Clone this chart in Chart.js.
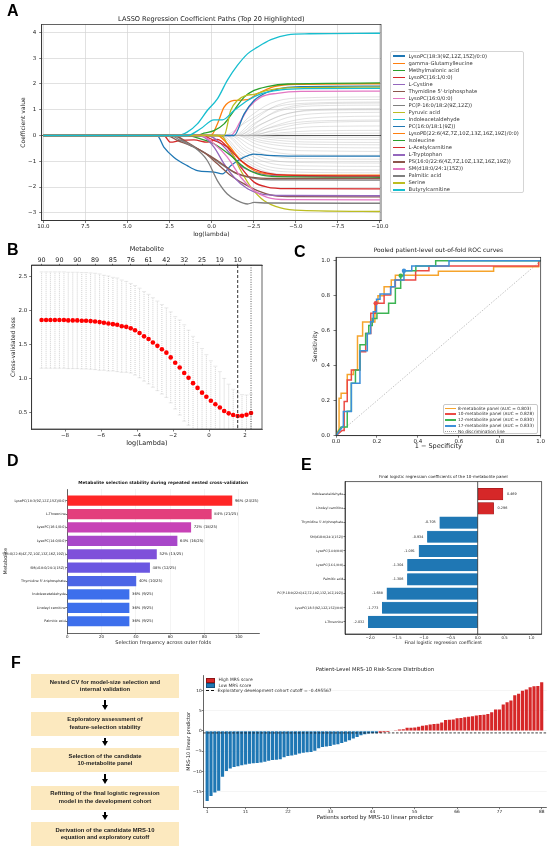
<!DOCTYPE html>
<html>
<head>
<meta charset="utf-8">
<title>Metabolite panel figure</title>
<script src="https://cdn.jsdelivr.net/npm/chart.js@4.4.1/dist/chart.umd.min.js"></script>
<style>
  html, body { margin: 0; padding: 0; background: #fff; }
  #page { position: relative; width: 550px; height: 851px; overflow: hidden; font-family: 'DejaVu Sans', sans-serif; color: #222; }
  #page canvas { position: absolute; left: 0; top: 0; }
  .tag { position: absolute; font: bold 16px/16px 'Liberation Sans', Arial, sans-serif; color: #000; }
  .lg { position: absolute; background: #fff; box-sizing: border-box; }
  .lg div { white-space: nowrap; }
  .sw { display: inline-block; vertical-align: middle; }
  .flow { position: absolute; left: 31px; width: 148px; height: 24px; background: #fce9bf; display: flex; align-items: center; justify-content: center; text-align: center; font: bold 5.9px/7.7px 'Liberation Sans', Arial, sans-serif; color: #222; }
  .arrow { position: absolute; left: 104.4px; width: 1.2px; background: #000; }
  .arrow:after { content: ''; position: absolute; left: -2.4px; bottom: -5px; border-left: 3px solid transparent; border-right: 3px solid transparent; border-top: 5px solid #000; }
</style>
</head>
<body>
<div id="page">
  <canvas id="cA" width="550" height="851"></canvas>
  <canvas id="cB" width="550" height="851"></canvas>
  <canvas id="cC" width="550" height="851"></canvas>
  <canvas id="cD" width="550" height="851"></canvas>
  <canvas id="cE" width="550" height="851"></canvas>
  <canvas id="cF" width="550" height="851"></canvas>

  <div class="tag" style="left:7px;top:3px">A</div>
  <div class="tag" style="left:7px;top:242px">B</div>
  <div class="tag" style="left:294px;top:243.5px">C</div>
  <div class="tag" style="left:7px;top:453px">D</div>
  <div class="tag" style="left:301px;top:457px">E</div>
  <div class="tag" style="left:11px;top:654.5px">F</div>

  <div id="legA" class="lg" style="left:390px;top:51px;width:134px;height:142px;border:0.8px solid #d5d5d5;border-radius:2px;padding:0.6px 0 0 1.6px;font-size:5.2px;line-height:7.05px;color:#333"></div>
  <div id="legC" class="lg" style="left:443px;top:404px;width:95px;height:30px;border:0.8px solid #c8c8c8;border-radius:2px;padding:0.6px 0 0 1.3px;font-size:4.3px;line-height:5.85px;color:#333"></div>
  <div id="legF" class="lg" style="left:205.5px;top:677.3px;font-size:4.4px;line-height:5.2px;color:#333;background:transparent"></div>
  <div id="flow"></div>
</div>

<script>
// ---------- A: LASSO coefficient paths ----------
const lassoStart = 10;
const lassoTicksX = [10, 7.5, 5, 2.5, 0, -2.5, -5, -7.5, -10];
const lassoTicksY = [-3, -2, -1, 0, 1, 2, 3, 4];

const topNames = [
  'LysoPC(18:3(9Z,12Z,15Z)/0:0)', 'gamma-Glutamylleucine', 'Methylmalonic acid', 'LysoPC(16:1/0:0)',
  'L-Cystine', "Thymidine 5'-triphosphate", 'LysoPC(16:0/0:0)', 'PC(P-16:0/18:2(9Z,12Z))',
  'Pyruvic acid', 'Indoleacetaldehyde', 'PC(16:0/18:1(9Z))', 'LysoPE(22:6(4Z,7Z,10Z,13Z,16Z,19Z)/0:0)',
  'Isoleucine', 'L-Acetylcarnitine', 'L-Tryptophan', 'PS(16:0/22:6(4Z,7Z,10Z,13Z,16Z,19Z))',
  'SM(d18:0/24:1(15Z))', 'Palmitic acid', 'Serine', 'Butyrylcarnitine'
];
const topColors = [
  '#1f77b4', '#ff7f0e', '#2ca02c', '#d62728', '#9467bd', '#8c564b', '#e377c2', '#7f7f7f', '#bcbd22', '#17becf',
  '#1f77b4', '#ff7f0e', '#2ca02c', '#d62728', '#9467bd', '#8c564b', '#e377c2', '#7f7f7f', '#bcbd22', '#17becf'
];
// [log(lambda), coefficient] knots, after the flat zero stretch
const topPaths = [
  [[3.24,0],[2.84,-0.45],[2.25,-0.84],[1.45,-1.17],[0.85,-1.36],[-0.14,-1.42],[-0.64,-1.49],[-1.13,-1.17],[-1.93,-0.84],[-2.5,-0.72],[-3.3,-0.77],[-5,-0.8],[-10,-0.8]],
  [[0.05,0],[-0.34,0.45],[-0.74,1.1],[-1.33,1.36],[-2.13,1.39],[-2.72,1.62],[-3.7,1.9],[-5,1.99],[-10,2.01]],
  [[0.85,0],[0.46,0.09],[-0.14,0.19],[-0.74,0.45],[-1.33,0.97],[-1.93,1.49],[-2.52,1.75],[-3.3,1.9],[-4.5,2],[-10,2.04]],
  [[2.84,0],[2.45,-0.26],[1.85,-0.19],[1.05,-0.17],[0.26,-0.26],[-0.34,-0.15],[-0.93,-0.45],[-1.73,-1.23],[-2.52,-1.81],[-3.3,-2],[-4.5,-2.06],[-10,-2.07]],
  [[0.26,0],[-0.34,-0.19],[-0.93,-0.58],[-1.73,-1.17],[-2.52,-1.42],[-3.7,-1.56],[-10,-1.6]],
  [[2.64,0],[2.05,-0.19],[1.25,-0.39],[0.46,-0.65],[-0.34,-1.1],[-1.13,-1.55],[-1.93,-1.88],[-2.72,-2.14],[-3.7,-2.33],[-5,-2.37],[-10,-2.38]],
  [[-1.13,0],[-1.73,0.58],[-2.23,1.1],[-2.92,1.49],[-3.9,1.64],[-5.3,1.71],[-10,1.72]],
  [[2.25,0],[1.45,-0.32],[0.46,-0.65],[-0.54,-1.1],[-1.53,-1.49],[-2.72,-1.68],[-4,-1.72],[-10,-1.73]],
  [[-0.54,0],[-1.13,-0.58],[-1.73,-1.36],[-2.33,-2],[-3.12,-2.53],[-4.1,-2.81],[-5.3,-2.91],[-10,-2.95]],
  [[2.05,0],[1.45,0.13],[0.85,0.45],[0.26,0.97],[-0.34,1.42],[-0.93,2.14],[-1.53,2.72],[-2.13,3.17],[-2.72,3.43],[-3.52,3.72],[-4.51,3.91],[-5.8,3.95],[-10,3.97]],
  [[-1.33,0],[-1.93,0.84],[-2.52,1.36],[-3.3,1.68],[-4.3,1.85],[-5.3,1.9],[-10,1.92]],
  [[-0.34,0],[-0.93,-0.32],[-1.73,-0.97],[-2.52,-1.36],[-3.3,-1.49],[-5,-1.54],[-10,-1.54]],
  [[1.45,0],[0.66,-0.13],[-0.14,-0.32],[-1.13,-0.78],[-1.93,-1.23],[-2.72,-1.49],[-3.9,-1.6],[-10,-1.62]],
  [[0.66,0],[-0.14,-0.19],[-0.93,-0.45],[-1.73,-0.97],[-2.52,-1.3],[-3.3,-1.46],[-4.5,-1.54],[-10,-1.57]],
  [[1.05,0],[0.46,-0.06],[-0.14,-0.45],[-0.74,-1.1],[-1.33,-1.62],[-2.13,-2.07],[-2.92,-2.27],[-4.1,-2.33],[-10,-2.34]],
  [[2.25,0],[1.45,-0.26],[0.66,-0.58],[-0.34,-0.97],[-1.33,-1.42],[-2.33,-1.62],[-3.7,-1.67],[-10,-1.67]],
  [[0.66,0],[-0.14,-0.32],[-0.93,-0.84],[-1.73,-1.62],[-2.52,-2.14],[-3.3,-2.4],[-4.5,-2.49],[-10,-2.5]],
  [[2.45,0],[1.85,-0.19],[1.05,-0.45],[0.26,-0.97],[-0.34,-1.75],[-0.93,-2.27],[-1.53,-2.53],[-2.13,-2.66],[-2.52,-2.6],[-3.3,-2.62],[-10,-2.63]],
  [[-0.74,0],[-1.13,0.97],[-1.53,1.36],[-2.03,1.55],[-2.52,1.6],[-3.3,1.75],[-4.5,1.85],[-10,1.88]],
  [[1.45,0],[0.66,0.26],[-0.14,0.61],[-0.64,0.61],[-1.33,0.97],[-2.13,1.36],[-2.92,1.62],[-4.1,1.77],[-5.5,1.82],[-10,1.83]]
];
// the remaining (grey) metabolites
const greyPaths = [
  [[-1,0],[-2.2,0.7],[-3.5,1.25],[-5,1.45],[-10,1.5]],
  [[-0.7,0],[-2,0.5],[-3.5,1.05],[-5.5,1.25],[-10,1.3]],
  [[-1.3,0],[-2.5,0.6],[-3.8,1.15],[-5.5,1.36],[-10,1.4]],
  [[-1.6,0],[-2.8,0.55],[-4,1],[-6,1.22],[-10,1.26]],
  [[-1.4,0],[-2.6,0.5],[-4,0.95],[-6,1.15],[-10,1.18]],
  [[-1.8,0],[-3,0.45],[-4.5,0.85],[-6.5,1.02],[-10,1.05]],
  [[-1.5,0],[-2.8,0.4],[-4.2,0.8],[-6,0.97],[-10,1]],
  [[-2,0],[-3.2,0.35],[-4.5,0.7],[-6.5,0.86],[-10,0.9]],
  [[-2.2,0],[-3.4,0.3],[-5,0.6],[-7,0.72],[-10,0.75]],
  [[-1.9,0],[-3.2,0.25],[-5,0.5],[-7,0.58],[-10,0.6]],
  [[-2.4,0],[-3.6,0.2],[-5,0.42],[-7,0.52],[-10,0.55]],
  [[-2.1,0],[-3.5,0.15],[-5.5,0.32],[-7.5,0.36],[-10,0.37]],
  [[-2.6,0],[-4,0.1],[-6,0.18],[-10,0.2]],
  [[-2.8,0],[-4.5,0.06],[-10,0.09]],
  [[-2.5,0],[-4,-0.05],[-10,-0.07]],
  [[-2.3,0],[-3.8,-0.1],[-6,-0.15],[-10,-0.16]],
  [[-2,0],[-3.4,-0.15],[-5.5,-0.25],[-10,-0.27]],
  [[-1.8,0],[-3,-0.2],[-5,-0.33],[-10,-0.36]],
  [[-1.6,0],[-2.8,-0.25],[-4.5,-0.42],[-7,-0.47],[-10,-0.48]],
  [[-1.5,0],[-2.7,-0.35],[-4.2,-0.55],[-6.5,-0.6],[-10,-0.62]],
  [[-1.2,0],[-2.4,-0.4],[-4,-0.68],[-6,-0.75],[-10,-0.77]],
  [[-1.1,0],[-2.2,-0.5],[-3.8,-0.82],[-6,-0.9],[-10,-0.92]],
  [[-0.9,0],[-2,-0.55],[-3.5,-0.95],[-5.5,-1.05],[-10,-1.07]],
  [[-0.8,0],[-1.9,-0.6],[-3.3,-1.05],[-5.5,-1.18],[-10,-1.2]],
  [[-0.6,0],[-1.7,-0.65],[-3.2,-1.18],[-5.5,-1.32],[-10,-1.34]],
  [[-0.5,0],[-1.6,-0.7],[-3,-1.25],[-5,-1.42],[-10,-1.45]],
  [[-0.3,0],[-1.5,-0.75],[-3,-1.35],[-5,-1.52],[-10,-1.55]]
];

// ---------- B: cross-validation curve ----------
const logLambda = [-9.30,-9.05,-8.81,-8.56,-8.31,-8.06,-7.82,-7.57,-7.32,-7.07,-6.83,-6.58,-6.33,-6.08,-5.84,-5.59,
  -5.34,-5.10,-4.85,-4.60,-4.35,-4.11,-3.86,-3.61,-3.36,-3.12,-2.87,-2.62,-2.37,-2.13,-1.88,-1.63,
  -1.38,-1.14,-0.89,-0.64,-0.39,-0.15,0.10,0.35,0.60,0.84,1.09,1.34,1.59,1.83,2.08,2.33];
const cvLoss = [1.86,1.86,1.86,1.86,1.86,1.86,1.855,1.855,1.855,1.85,1.85,1.845,1.84,1.83,1.82,1.81,
  1.80,1.79,1.77,1.76,1.74,1.71,1.67,1.62,1.58,1.53,1.48,1.43,1.38,1.31,1.23,1.16,
  1.08,1.01,0.93,0.86,0.79,0.73,0.67,0.62,0.57,0.52,0.485,0.46,0.445,0.45,0.465,0.49];
const cvSd = [0.71,0.71,0.71,0.71,0.71,0.71,0.71,0.71,0.71,0.71,0.71,0.71,0.71,0.71,0.70,0.70,
  0.69,0.69,0.68,0.67,0.66,0.66,0.66,0.66,0.66,0.66,0.66,0.66,0.66,0.67,0.68,0.70,
  0.71,0.70,0.69,0.67,0.65,0.62,0.59,0.56,0.53,0.48,0.43,0.38,0.34,0.31,0.29,0.28];
const nonzeroIdx = [0, 4, 8, 12, 16, 20, 24, 28, 32, 36, 40, 44];
const nonzeroCount = [90, 90, 90, 89, 85, 76, 61, 42, 32, 25, 19, 10];
const lambdaMin = 1.59;
const lambda1se = 2.33;
const cvTicksX = [-8, -6, -4, -2, 0, 2];
const cvTicksY = [0.5, 1.0, 1.5, 2.0, 2.5];

// ---------- C: ROC curves ----------
const rocLabels = ['8-metabolite panel (AUC = 0.803)', '10-metabolite panel (AUC = 0.828)', '12-metabolite panel (AUC = 0.830)', '17-metabolite panel (AUC = 0.833)'];
const rocColors = ['#f6a42c', '#ec4a45', '#3cb453', '#3d8fd8'];
const rocCurves = [
  [[0,0],[0.015,0.04],[0.015,0.214],[0.025,0.214],[0.025,0.243],[0.055,0.243],[0.055,0.35],[0.085,0.35],[0.085,0.376],[0.105,0.376],[0.105,0.57],[0.13,0.57],[0.13,0.65],[0.19,0.65],[0.19,0.757],[0.205,0.757],[0.205,0.8],[0.235,0.8],[0.235,0.852],[0.27,0.852],[0.27,0.89],[0.29,0.89],[0.29,0.918],[0.5,0.918],[0.5,0.94],[0.77,0.94],[0.77,0.966],[0.99,0.966],[0.99,1],[1,1]],
  [[0,0],[0.03,0.03],[0.04,0.03],[0.04,0.195],[0.055,0.195],[0.055,0.319],[0.075,0.319],[0.075,0.376],[0.117,0.376],[0.117,0.48],[0.145,0.48],[0.145,0.585],[0.17,0.585],[0.17,0.7],[0.194,0.7],[0.194,0.757],[0.235,0.757],[0.235,0.805],[0.267,0.805],[0.267,0.852],[0.29,0.852],[0.29,0.89],[0.389,0.89],[0.389,0.943],[0.454,0.943],[0.454,0.97],[0.99,0.97],[0.99,1],[1,1]],
  [[0,0],[0.025,0.05],[0.055,0.05],[0.055,0.14],[0.075,0.14],[0.075,0.3],[0.095,0.3],[0.095,0.376],[0.117,0.376],[0.117,0.52],[0.145,0.52],[0.145,0.585],[0.16,0.585],[0.16,0.63],[0.177,0.63],[0.177,0.67],[0.2,0.67],[0.2,0.7],[0.257,0.7],[0.257,0.757],[0.29,0.757],[0.29,0.843],[0.316,0.843],[0.316,0.915],[0.33,0.915],[0.33,0.943],[0.39,0.943],[0.39,0.97],[0.487,0.97],[0.487,1],[1,1]],
  [[0,0],[0.036,0.057],[0.036,0.138],[0.075,0.138],[0.075,0.3],[0.117,0.3],[0.117,0.486],[0.153,0.486],[0.153,0.585],[0.169,0.585],[0.169,0.652],[0.182,0.652],[0.182,0.709],[0.198,0.709],[0.198,0.78],[0.215,0.78],[0.215,0.81],[0.267,0.81],[0.267,0.852],[0.288,0.852],[0.288,0.89],[0.332,0.89],[0.332,0.943],[0.37,0.943],[0.37,0.97],[0.552,0.97],[0.552,1],[1,1]]
];
const rocCutPoints = [null, [0.194, 0.757], [0.316, 0.915], [0.332, 0.943]];
const chanceLine = [[0, 0], [1, 1]];
const rocTicks = [0, 0.2, 0.4, 0.6, 0.8, 1.0];

// ---------- D: selection stability ----------
const selNames = ['LysoPC(18:3(9Z,12Z,15Z)/0:0)', 'L-Threonine', 'LysoPC(16:1/0:0)', 'LysoPC(14:0/0:0)',
  'PC(P-18:0/22:6(4Z,7Z,10Z,13Z,16Z,19Z))', 'SM(d18:0/24:1(15Z))', "Thymidine 5'-triphosphate",
  'Indoleacetaldehyde', 'Linoleyl carnitine', 'Palmitic acid'];
const selPct = [96, 84, 72, 64, 52, 48, 40, 36, 36, 36];
const selFolds = [24, 21, 18, 16, 13, 12, 10, 9, 9, 9];
const outerFolds = 25;
const selColors = ['#ff2626', '#e33f7c', '#c842b6', '#a847c9', '#7f50da', '#6b57e1', '#4c65e6', '#3d6fec', '#3d6fec', '#3d6fec'];
const selTicks = [0, 20, 40, 60, 80, 100];

// ---------- E: final coefficients ----------
const coefNames = ['Indoleacetaldehyde', 'Linoleyl carnitine', "Thymidine 5'-triphosphate", 'SM(d18:0/24:1(15Z))',
  'LysoPC(14:0/0:0)', 'LysoPC(16:1/0:0)', 'Palmitic acid', 'PC(P-18:0/22:6(4Z,7Z,10Z,13Z,16Z,19Z))',
  'LysoPC(18:3(9Z,12Z,15Z)/0:0)', 'L-Threonine'];
const coefValues = [0.469, 0.296, -0.705, -0.934, -1.091, -1.304, -1.306, -1.688, -1.773, -2.032];
const coefTicks = [-2.0, -1.5, -1.0, -0.5, 0.0, 0.5, 1.0];

// ---------- F: patient-level risk score ----------
const mrsScores = [-17.3,-16.1,-15.2,-14.8,-11.3,-9.9,-9.3,-8.9,-8.7,-8.45,-8.3,-8.1,-8.0,-7.9,-7.8,-7.6,-7.4,-7.2,-7.1,-7.0,
  -6.5,-6.2,-6.1,-5.9,-5.6,-5.4,-5.3,-5.2,-4.9,-4.3,-4.0,-3.85,-3.7,-3.4,-3.3,-3.0,-2.7,-2.3,-1.9,-1.5,
  -1.1,-0.85,-0.65,-0.6,-0.55,-0.45,-0.35,-0.3,-0.1,0.05,0.35,0.4,0.75,0.8,0.85,1.0,1.3,1.4,1.6,1.7,
  1.75,2.1,2.7,2.75,2.8,3.1,3.2,3.4,3.5,3.6,3.8,3.9,4.0,4.2,4.6,5.3,5.3,6.5,7.1,7.5,
  8.8,9.2,9.9,10.2,10.8,11.0,11.1,12.0];
const mrsCutoff = -0.495567;
const patientTicks = [1, 11, 22, 33, 44, 55, 66, 77, 88];
const mrsTicksY = [-15, -10, -5, 0, 5, 10];

const flowSteps = [
  ['Nested CV for model-size selection and', 'internal validation'],
  ['Exploratory assessment of', 'feature-selection stability'],
  ['Selection of the candidate', '10-metabolite panel'],
  ['Refitting of the final logistic regression', 'model in the development cohort'],
  ['Derivation of the candidate MRS-10', 'equation and exploratory cutoff']
];

// ---------------------------------------------------------------
Chart.defaults.font.family = "'DejaVu Sans', sans-serif";
Chart.defaults.color = '#222';
Chart.defaults.animation = false;
Chart.defaults.plugins.legend.display = false;
Chart.defaults.plugins.tooltip.enabled = false;

const minus = d => v => (v < 0 ? '\u2212' : '') + Math.abs(v).toFixed(d);

// every canvas covers the page, so the plot box is given in page pixels
function fitBox(area, yT, xT, topT) {
  const lw = yT ? area.l - (yT[0] - 0.6 * yT[1]) : area.lw;
  const bh = xT[0] - area.b + 0.6 * xT[1];
  const th = topT ? area.t - topT[0] + 0.6 * topT[1] : 0;
  return { lw, bh, th, padding: { left: area.l - lw, top: area.t - th, right: 550 - area.r, bottom: 851 - area.b - bh } };
}

function axis(o) {
  const horiz = o.position === 'bottom' || o.position === 'top';
  return {
    type: 'linear', position: o.position, min: o.min, max: o.max, reverse: !!o.reverse, bounds: 'data', offset: false,
    afterBuildTicks: s => { s.ticks = o.ticks.map(v => ({ value: v })); },
    afterFit: s => {
      if (horiz) { s.height = o.size; s.paddingLeft = 0; s.paddingRight = 0; }
      else { s.width = o.size; s.paddingTop = 0; s.paddingBottom = 0; }
    },
    ticks: { autoSkip: false, maxRotation: 0, minRotation: 0, padding: o.pad, font: { size: o.fs }, color: '#222', callback: o.fmt },
    grid: { display: true, offset: false, drawOnChartArea: !!o.grid, color: o.gridColor || '#e6e6e6', lineWidth: o.gridWidth || 0.6,
            drawTicks: o.tl > 0, tickLength: o.tl, tickColor: '#222', tickWidth: 0.6 },
    border: { display: o.border !== false, color: '#222', width: 0.7 },
    title: o.title ? { display: true, text: o.title, font: { size: o.tfs }, color: '#222', padding: 0 } : { display: false }
  };
}

// titles, frames, reference lines and bar value labels
Chart.register({
  id: 'extras',
  afterDatasetsDraw(chart, args, o) {
    const { ctx, chartArea: a, scales } = chart;
    ctx.save();
    (o.vlines || []).forEach(l => {
      const x = scales.x.getPixelForValue(l.value);
      ctx.strokeStyle = l.color; ctx.lineWidth = l.width; ctx.setLineDash(l.dash || []);
      ctx.beginPath(); ctx.moveTo(x, a.top); ctx.lineTo(x, a.bottom); ctx.stroke();
    });
    (o.hlines || []).forEach(l => {
      const y = scales.y.getPixelForValue(l.value);
      ctx.strokeStyle = l.color; ctx.lineWidth = l.width; ctx.setLineDash(l.dash || []);
      ctx.beginPath(); ctx.moveTo(a.left, y); ctx.lineTo(a.right, y); ctx.stroke();
    });
    ctx.setLineDash([]);
    if (o.barText) {
      const meta = chart.getDatasetMeta(0);
      ctx.font = o.barText.size + "px 'DejaVu Sans', sans-serif";
      ctx.fillStyle = '#222'; ctx.textBaseline = 'middle';
      meta.data.forEach((el, i) => {
        const neg = o.barText.values[i] < 0;
        ctx.textAlign = neg ? 'right' : 'left';
        ctx.fillText(o.barText.texts[i], el.x + (neg ? -o.barText.gap : o.barText.gap), el.y);
      });
    }
    ctx.restore();
  },
  afterDraw(chart, args, o) {
    const { ctx, chartArea: a } = chart;
    ctx.save();
    if (o.frame) {
      ctx.strokeStyle = '#222'; ctx.lineWidth = 0.7;
      ctx.strokeRect(a.left, a.top, a.right - a.left, a.bottom - a.top);
    }
    if (o.title) {
      ctx.font = (o.title.bold ? 'bold ' : '') + o.title.size + "px 'DejaVu Sans', sans-serif";
      ctx.fillStyle = '#222'; ctx.textAlign = 'center'; ctx.textBaseline = 'middle';
      ctx.fillText(o.title.text, (a.left + a.right) / 2, o.title.y);
    }
    ctx.restore();
  }
});

const asXY = pts => pts.map(p => ({ x: p[0], y: p[1] }));

// ---------- A ----------
(function () {
  const area = { l: 41.7, t: 24.5, r: 381, b: 220.5 };
  const f = fitBox(area, [23.3, 6], [234, 6]);
  const coloured = topPaths.map((p, i) => ({
    data: asXY([[lassoStart, 0]].concat(p)), borderColor: topColors[i], borderWidth: 1.3,
    order: topPaths.length - i, pointRadius: 0, cubicInterpolationMode: 'monotone'
  }));
  const grey = greyPaths.map(p => ({
    data: asXY([[lassoStart, 0]].concat(p)), borderColor: 'rgba(175,175,175,0.55)', borderWidth: 0.7,
    order: 100, pointRadius: 0, cubicInterpolationMode: 'monotone'
  }));
  const yAx = axis({ position: 'left', min: -3.3, max: 4.31, ticks: lassoTicksY, fmt: minus(0), size: f.lw, fs: 5.5, pad: 3, tl: 2.5,
                     grid: true, title: 'Coefficient value', tfs: 6 });
  // zero line drawn darker than the grid
  yAx.grid.color = c => (c.tick && c.tick.value === 0 ? '#555' : '#d4d4d4');
  yAx.grid.lineWidth = c => (c.tick && c.tick.value === 0 ? 1.1 : 0.7);
  new Chart(document.getElementById('cA'), {
    type: 'line',
    data: { datasets: coloured.concat(grey) },
    options: {
      responsive: false, maintainAspectRatio: false, layout: { padding: f.padding },
      scales: {
        x: axis({ position: 'bottom', min: -10.06, max: 10.095, reverse: true, ticks: lassoTicksX, fmt: minus(1), size: f.bh, fs: 5.5, pad: 0, tl: 2.5,
                  grid: true, gridColor: '#d4d4d4', gridWidth: 0.7, title: 'log(lambda)', tfs: 6 }),
        y: yAx
      },
      plugins: { extras: { frame: true, title: { text: 'LASSO Regression Coefficient Paths (Top 20 Highlighted)', size: 6.6, y: 19 } } }
    }
  });
})();

const legA = document.getElementById('legA');
topNames.forEach((n, i) => {
  const d = document.createElement('div');
  d.innerHTML = '<span class="sw" style="width:12.6px;height:1.4px;margin-right:3.4px;background:' + topColors[i] + '"></span>' + n;
  legA.appendChild(d);
});

// ---------- B ----------
(function () {
  const area = { l: 31.7, t: 265, r: 262, b: 429 };
  const f = fitBox(area, [13.3, 6], [443, 6.5], [249, 6.5]);
  // one vertical segment per lambda, broken by gaps
  const bars = [];
  logLambda.forEach((x, i) => { bars.push({ x, y: cvLoss[i] - cvSd[i] }, { x, y: cvLoss[i] + cvSd[i] }, { x, y: null }); });
  new Chart(document.getElementById('cB'), {
    type: 'scatter',
    data: {
      datasets: [
        { type: 'scatter', data: logLambda.map((x, i) => ({ x, y: cvLoss[i] })), pointRadius: 2.3,
          pointBackgroundColor: '#ff0000', pointBorderWidth: 0, order: 0 },
        { type: 'scatter', data: logLambda.map((x, i) => ({ x, y: cvLoss[i] + cvSd[i] })), pointStyle: 'line', pointRadius: 2,
          pointBorderColor: '#d2d2d2', pointBorderWidth: 0.5, order: 1 },
        { type: 'scatter', data: logLambda.map((x, i) => ({ x, y: cvLoss[i] - cvSd[i] })), pointStyle: 'line', pointRadius: 2,
          pointBorderColor: '#d2d2d2', pointBorderWidth: 0.5, order: 1 },
        { type: 'line', showLine: true, spanGaps: false, data: bars, borderColor: '#bdbdbd', borderWidth: 0.7,
          borderDash: [1, 1], pointRadius: 0, order: 2 }
      ]
    },
    options: {
      responsive: false, maintainAspectRatio: false, layout: { padding: f.padding },
      scales: {
        x: axis({ position: 'bottom', min: -9.85, max: 2.94, ticks: cvTicksX, fmt: minus(0), size: f.bh, fs: 5.5, pad: 0.7, tl: 2.5,
                  title: 'log(Lambda)', tfs: 6.5 }),
        x2: axis({ position: 'top', min: -9.85, max: 2.94, ticks: nonzeroIdx.map(i => logLambda[i]), fmt: (v, i) => String(nonzeroCount[i]),
                   size: f.th, fs: 6.4, pad: 0, tl: 1.2, title: 'Metabolite', tfs: 6.5 }),
        y: axis({ position: 'left', min: 0.254, max: 2.672, ticks: cvTicksY, fmt: minus(1), size: f.lw, fs: 5.5, pad: 1.9, tl: 2.5,
                  title: 'Cross-validated loss', tfs: 6 })
      },
      plugins: { extras: { frame: true, vlines: [
        { value: lambdaMin, color: '#333', width: 1, dash: [3, 2] },
        { value: lambda1se, color: '#333', width: 0.8, dash: [1, 1.4] }
      ] } }
    }
  });
})();

// ---------- C ----------
(function () {
  const area = { l: 336, t: 257.3, r: 540.7, b: 435.7 };
  const f = fitBox(area, [315, 6], [446.7, 6.5]);
  const sets = [{ data: asXY(chanceLine), borderColor: '#9a9a9a', borderWidth: 0.6, borderDash: [1.5, 1.5], pointRadius: 0, order: 50 }];
  rocCurves.forEach((c, i) => {
    sets.push({ data: asXY(c), borderColor: rocColors[i], borderWidth: 1.5, pointRadius: 0, tension: 0, order: 10 - i });
    if (rocCutPoints[i]) sets.push({ type: 'scatter', data: asXY([rocCutPoints[i]]), pointRadius: 2.2,
      pointBackgroundColor: rocColors[i], pointBorderWidth: 0, order: 0 });
  });
  new Chart(document.getElementById('cC'), {
    type: 'line',
    data: { datasets: sets },
    options: {
      responsive: false, maintainAspectRatio: false, layout: { padding: f.padding },
      scales: {
        x: axis({ position: 'bottom', min: 0, max: 1, ticks: rocTicks, fmt: minus(1), size: f.bh, fs: 5.5, pad: 0.3, tl: 2, title: '1 \u2212 Specificity', tfs: 6.5 }),
        y: axis({ position: 'left', min: 0, max: 1.02, ticks: rocTicks, fmt: minus(1), size: f.lw, fs: 5.5, pad: 3.5, tl: 2.5, title: 'Sensitivity', tfs: 6 })
      },
      plugins: { extras: { frame: true, title: { text: 'Pooled patient-level out-of-fold ROC curves', size: 6, y: 250.7 } } }
    }
  });
})();

const legC = document.getElementById('legC');
rocLabels.concat(['No discrimination line']).forEach((n, i) => {
  const d = document.createElement('div');
  const sw = i < rocColors.length
    ? '<span class="sw" style="width:11px;height:1.6px;margin-right:1.7px;background:' + rocColors[i] + '"></span>'
    : '<span class="sw" style="width:11px;height:0;border-top:0.8px dotted #999;margin-right:1.7px"></span>';
  d.innerHTML = sw + n;
  legC.appendChild(d);
});

// ---------- D ----------
(function () {
  const area = { l: 67.3, t: 489, r: 259, b: 633.3 };
  const f = fitBox(area, [5.5, 5], [642.3, 5]);
  new Chart(document.getElementById('cD'), {
    type: 'bar',
    data: { datasets: [{ data: selPct.map((v, i) => ({ x: v, y: i })), backgroundColor: selColors, barThickness: 9.5 }] },
    options: {
      indexAxis: 'y', responsive: false, maintainAspectRatio: false, layout: { padding: f.padding },
      scales: {
        x: axis({ position: 'bottom', min: 0, max: 111.8, ticks: selTicks, fmt: v => String(v), size: f.bh, fs: 4, pad: 0, tl: 1.2,
                  grid: true, gridColor: '#ececec', gridWidth: 0.6, title: 'Selection frequency across outer folds', tfs: 5 }),
        y: axis({ position: 'left', min: -0.87, max: 9.9, reverse: true, ticks: selNames.map((n, i) => i), fmt: (v, i) => selNames[i],
                  size: f.lw, fs: 3.4, pad: 0, tl: 1.6, title: 'Metabolite', tfs: 5 })
      },
      plugins: { extras: {
        title: { text: 'Metabolite selection stability during repeated nested cross-validation', size: 4.3, bold: true, y: 483.3 },
        barText: { values: selPct, texts: selPct.map((p, i) => p + '% (' + selFolds[i] + '/' + outerFolds + ')'), size: 3.8, gap: 3 }
      } }
    }
  });
})();

// ---------- E ----------
(function () {
  const area = { l: 345, t: 481.7, r: 541.7, b: 634, lw: 70 };
  const f = fitBox(area, null, [643.3, 4.5]);
  new Chart(document.getElementById('cE'), {
    type: 'bar',
    data: { datasets: [{ data: coefValues.map((v, i) => ({ x: v, y: i })),
      backgroundColor: coefValues.map(v => (v > 0 ? '#d62728' : '#1f77b4')),
      borderColor: coefValues.map(v => (v > 0 ? '#8e1416' : '#1f77b4')), borderWidth: 0.5, borderSkipped: false, barThickness: 11.5 }] },
    options: {
      indexAxis: 'y', responsive: false, maintainAspectRatio: false, layout: { padding: f.padding },
      scales: {
        x: axis({ position: 'bottom', min: -2.466, max: 1.19, ticks: coefTicks, fmt: minus(1), size: f.bh, fs: 3.8, pad: 0.3, tl: 1.5,
                  title: 'Final logistic regression coefficient', tfs: 4.5 }),
        y: axis({ position: 'left', min: -0.88, max: 9.85, reverse: true, ticks: coefNames.map((n, i) => i), fmt: (v, i) => coefNames[i],
                  size: f.lw, fs: 3.2, pad: 0.2, tl: 1.5 })
      },
      plugins: { extras: {
        frame: true,
        title: { text: 'Final logistic regression coefficients of the 10-metabolite panel', size: 4.1, y: 476.7 },
        vlines: [{ value: 0, color: '#111', width: 0.7 }],
        barText: { values: coefValues, texts: coefValues.map(v => v.toFixed(3)), size: 3.4, gap: 4 }
      } }
    }
  });
})();

// ---------- F ----------
(function () {
  const area = { l: 203.3, t: 675, r: 546.7, b: 807.7 };
  const f = fitBox(area, [188.3, 5], [817.7, 5.5]);
  new Chart(document.getElementById('cF'), {
    type: 'bar',
    data: { datasets: [{ data: mrsScores.map((v, i) => ({ x: i + 1, y: v })),
      backgroundColor: mrsScores.map(v => (v > mrsCutoff ? '#d62728' : '#1f77b4')),
      barPercentage: 0.82, categoryPercentage: 1 }] },
    options: {
      responsive: false, maintainAspectRatio: false, layout: { padding: f.padding },
      scales: {
        x: axis({ position: 'bottom', min: 0, max: 89.3, ticks: patientTicks, fmt: v => String(v), size: f.bh, fs: 4.3, pad: 0.3, tl: 1.5,
                  title: 'Patients sorted by MRS-10 linear predictor', tfs: 5.5 }),
        y: axis({ position: 'left', min: -18.96, max: 13.8, ticks: mrsTicksY, fmt: minus(0), size: f.lw, fs: 4.3, pad: 0.2, tl: 1.4,
                  grid: true, gridColor: '#efefef', gridWidth: 0.6, title: 'MRS-10 linear predictor', tfs: 5 })
      },
      plugins: { extras: {
        title: { text: 'Patient-Level MRS-10 Risk-Score Distribution', size: 5.3, y: 670 },
        hlines: [{ value: mrsCutoff, color: '#111', width: 0.8, dash: [2.5, 1.6] }]
      } }
    }
  });
})();

const legF = document.getElementById('legF');
[['High MRS score', '#d62728', '#8e1416'], ['Low MRS score', '#1f77b4', '#16507c'],
 ['Exploratory development cohort cutoff = ' + mrsCutoff, null, null]].forEach(it => {
  const d = document.createElement('div');
  const sw = it[1]
    ? '<span class="sw" style="width:7.6px;height:3px;background:' + it[1] + ';border:0.5px solid ' + it[2] + ';margin-right:3.3px"></span>'
    : '<span class="sw" style="width:8.6px;height:0;border-top:0.8px dashed #111;margin-right:3.3px"></span>';
  d.innerHTML = sw + it[0];
  legF.appendChild(d);
});

// ---------- F: workflow boxes ----------
const flowTops = [674.3, 711.7, 748.3, 785.7, 822.3];
const flow = document.getElementById('flow');
flowSteps.forEach((s, i) => {
  const b = document.createElement('div');
  b.className = 'flow';
  b.style.top = flowTops[i] + 'px';
  b.innerHTML = s[0] + '<br>' + s[1];
  flow.appendChild(b);
  if (i < flowSteps.length - 1) {
    const a = document.createElement('div');
    a.className = 'arrow';
    a.style.top = (flowTops[i] + 26) + 'px';
    a.style.height = (flowTops[i + 1] - flowTops[i] - 33) + 'px';
    flow.appendChild(a);
  }
});
</script>
</body>
</html>
